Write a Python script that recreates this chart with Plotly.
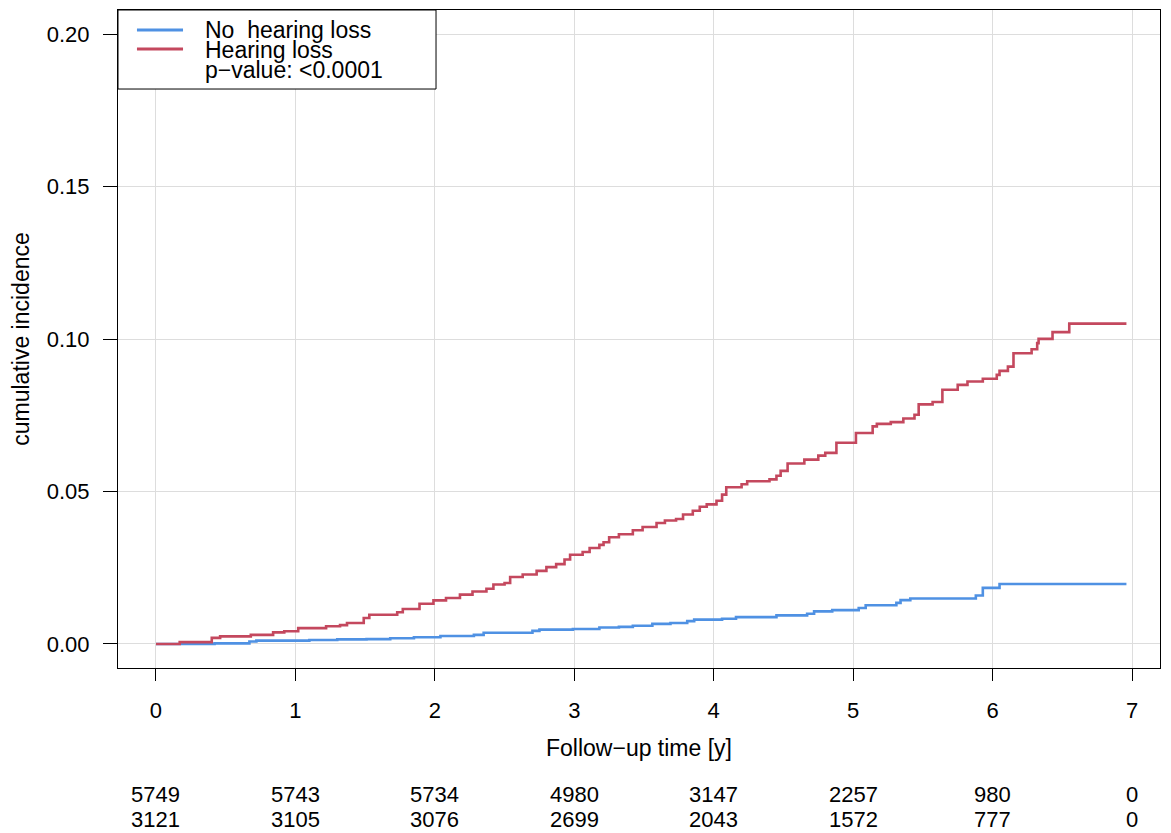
import plotly.graph_objects as go

# ---------------- data ----------------
time_ticks = [0, 1, 2, 3, 4, 5, 6, 7]
y_ticks = [0.00, 0.05, 0.10, 0.15, 0.20]
at_risk_no_hl = [5749, 5743, 5734, 4980, 3147, 2257, 980, 0]
at_risk_hl = [3121, 3105, 3076, 2699, 2043, 1572, 777, 0]

series_names = ["No\u00a0 hearing loss", "Hearing loss"]
p_value_text = "p\u2212value: &lt;0.0001"

# No hearing loss (blue) - step events (time, cumulative incidence)
blue_t = [0, 0.42, 0.67, 0.72, 1.10, 1.30, 1.51, 1.68, 1.85, 2.04, 2.28, 2.35,
          2.70, 2.75, 2.99, 3.18, 3.32, 3.42, 3.56, 3.69, 3.81, 3.86, 4.06,
          4.16, 4.45, 4.67, 4.72, 4.85, 5.04, 5.09, 5.31, 5.34, 5.41, 5.86,
          5.88, 5.93, 6.04, 6.05, 6.96]
blue_ci = [0, 0.0002, 0.0008, 0.0011, 0.0013, 0.0015, 0.0016, 0.0019, 0.0022,
           0.0026, 0.0030, 0.0037, 0.0043, 0.0047, 0.0049, 0.0054, 0.0056,
           0.0060, 0.0066, 0.0069, 0.0075, 0.0080, 0.0083, 0.0088, 0.0094,
           0.0099, 0.0107, 0.0111, 0.0118, 0.0127, 0.0135, 0.0144, 0.0149,
           0.0149, 0.0159, 0.0184, 0.0184, 0.0197, 0.0197]

# Hearing loss (red)
red_t = [0, 0.17, 0.40, 0.46, 0.68, 0.84, 0.92, 1.02, 1.22, 1.32, 1.37, 1.49,
         1.53, 1.73, 1.77, 1.89, 1.99, 2.08, 2.18, 2.27, 2.37, 2.42, 2.50,
         2.54, 2.63, 2.73, 2.80, 2.87, 2.93, 2.97, 3.06, 3.11, 3.18, 3.21,
         3.25, 3.32, 3.42, 3.49, 3.59, 3.65, 3.73, 3.78, 3.85, 3.90, 3.95,
         4.02, 4.06, 4.09, 4.20, 4.24, 4.40, 4.45, 4.48, 4.53, 4.65, 4.75,
         4.80, 4.88, 5.02, 5.14, 5.17, 5.27, 5.36, 5.44, 5.47, 5.57, 5.64,
         5.75, 5.82, 5.93, 6.03, 6.05, 6.11, 6.15, 6.28, 6.32, 6.33, 6.43,
         6.55, 6.96]
red_ci = [0, 0.0006, 0.0020, 0.0025, 0.0030, 0.0038, 0.0042, 0.0052, 0.0058,
          0.0062, 0.0069, 0.0085, 0.0096, 0.0104, 0.0115, 0.0132, 0.0143,
          0.0151, 0.0162, 0.0172, 0.0181, 0.0195, 0.0200, 0.0220, 0.0228,
          0.0240, 0.0252, 0.0262, 0.0277, 0.0293, 0.0302, 0.0315, 0.0325,
          0.0334, 0.0350, 0.0360, 0.0373, 0.0384, 0.0397, 0.0405, 0.0410,
          0.0425, 0.0437, 0.0450, 0.0458, 0.0470, 0.0490, 0.0514, 0.0524,
          0.0534, 0.0540, 0.0552, 0.0568, 0.0592, 0.0605, 0.0618, 0.0627,
          0.0660, 0.0692, 0.0714, 0.0722, 0.0728, 0.0740, 0.0752, 0.0786,
          0.0794, 0.0834, 0.0850, 0.0861, 0.0870, 0.0883, 0.0896, 0.0910,
          0.0954, 0.0967, 0.0987, 0.1001, 0.1023, 0.1051, 0.1051]

# ---------------- styles ----------------
BLUE = "#4F91E3"
RED = "#C4485E"
FONT = "Liberation Sans, Arial, Helvetica, sans-serif"
FS = 22      # tick labels / numbers at risk
FS_T = 23    # axis titles / legend

fig = go.Figure()
fig.add_trace(go.Scatter(x=blue_t, y=blue_ci, mode="lines", line_shape="hv",
                         line=dict(color=BLUE, width=2.6), name=series_names[0],
                         showlegend=False))
fig.add_trace(go.Scatter(x=red_t, y=red_ci, mode="lines", line_shape="hv",
                         line=dict(color=RED, width=2.6), name=series_names[1],
                         showlegend=False))

# numbers at risk
for t, n1, n2 in zip(time_ticks, at_risk_no_hl, at_risk_hl):
    fig.add_annotation(x=t, y=-0.193, xref="x", yref="paper", text=str(n1),
                       showarrow=False, xanchor="center", yanchor="middle",
                       font=dict(family=FONT, size=FS, color="black"))
    fig.add_annotation(x=t, y=-0.231, xref="x", yref="paper", text=str(n2),
                       showarrow=False, xanchor="center", yanchor="middle",
                       font=dict(family=FONT, size=FS, color="black"))

# legend (manual, R-style)
fig.add_shape(type="rect", xref="paper", yref="paper", x0=0, x1=0.3052,
              y0=0.8799, y1=1, line=dict(color="black", width=1),
              fillcolor="white", layer="above")
for yy, col in [(0.9696, BLUE), (0.9407, RED)]:
    fig.add_shape(type="line", xref="paper", yref="paper", x0=0.0182, x1=0.0624,
                  y0=yy, y1=yy, line=dict(color=col, width=3), layer="above")
for yy, txt in [(0.9690, series_names[0]), (0.9385, series_names[1]),
                (0.9090, p_value_text)]:
    fig.add_annotation(x=0.0815, y=yy, xref="paper", yref="paper", text=txt,
                       showarrow=False, xanchor="left", yanchor="middle",
                       font=dict(family=FONT, size=FS_T, color="black"))

# page body adds an 8px offset; figure is sized so that the plot area lands
# at x 118-1160, y 10-668 of the window
fig.update_layout(
    width=1163, height=825,
    margin=dict(l=110, r=11, t=2, b=165),
    paper_bgcolor="white", plot_bgcolor="white",
    font=dict(family=FONT, size=FS, color="black"),
    showlegend=False,
)
fig.update_xaxes(
    range=[-0.2725, 7.2008], tickvals=time_ticks, ticktext=[str(t) for t in time_ticks],
    showline=True, linecolor="black", linewidth=1, mirror=True,
    ticks="outside", ticklen=12, tickcolor="black", tickwidth=1,
    showgrid=True, gridcolor="#DDDDDD", gridwidth=1, zeroline=False,
    ticklabelstandoff=11, automargin=False,
    title=dict(text="Follow\u2212up time [y]", standoff=17,
               font=dict(family=FONT, size=FS_T)),
)
fig.update_yaxes(
    range=[-0.00788, 0.2080], tickvals=y_ticks, tickformat=".2f",
    showline=True, linecolor="black", linewidth=1, mirror=True,
    ticks="outside", ticklen=14, tickcolor="black", tickwidth=1,
    showgrid=True, gridcolor="#DDDDDD", gridwidth=1, zeroline=False,
    ticklabelstandoff=9, automargin=False,
    title=dict(text="cumulative incidence", standoff=11,
               font=dict(family=FONT, size=FS_T)),
)

fig.write_html("out.html")
